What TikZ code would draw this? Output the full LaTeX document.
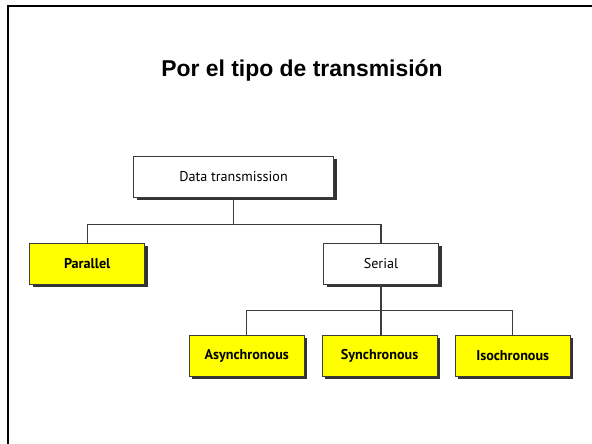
\documentclass[tikz,border=0pt]{standalone}
\usepackage{fontspec}
\setmainfont{Liberation Sans}
\newfontfamily\boxfont{PT Sans}
\usetikzlibrary{shadows}
\definecolor{boxyellow}{RGB}{255,255,0}
\definecolor{linegray}{RGB}{60,60,60}
\tikzset{
  x=1bp, y=-1bp,
  treebox/.style={draw=linegray, line width=0.8bp, minimum width=115bp, minimum height=41bp,
    inner sep=0pt, font=\boxfont\fontsize{14.2}{16}\selectfont,
    drop shadow={shadow xshift=3bp, shadow yshift=-3bp, fill=black!80, opacity=1}},
  yellowbox/.style={treebox, fill=boxyellow, font=\boxfont\bfseries\fontsize{14.2}{16}\selectfont},
  whitebox/.style={treebox, fill=white},
  conn/.style={draw=linegray, line width=1.3bp}
}
\begin{document}
\begin{tikzpicture}
\useasboundingbox (0,0) rectangle (592,444);
\fill[white] (0,0) rectangle (592,444);
\draw[line width=2.5bp, black] (8,444) -- (8,6) -- (592,6);
\node[font=\bfseries\fontsize{23}{27}\selectfont] (title) at (302,70) {Por el tipo de transmisión};
\node[whitebox, minimum width=200bp] (data) at (233.5,176.5) {Data transmission};
\node[yellowbox] (par) at (87.2,263.7) {Parallel};
\node[whitebox] (ser) at (381,263.7) {Serial};
\node[yellowbox] (asy) at (246.7,355.6) {Asynchronous};
\node[yellowbox] (syn) at (379.6,355.6) {Synchronous};
\node[yellowbox] (iso) at (512.7,355.6) {Isochronous};
\coordinate (j1) at (233.5,224.2);
\coordinate (j2) at (381,310.3);
\draw[conn] (data.south) -- (j1);
\draw[conn] (par.north) |- (j1) -| (ser.north);
\draw[conn] (ser.south) -- (j2);
\draw[conn] (asy.north) |- (j2) -| (iso.north);
\draw[conn] (j2) -- (syn.north -| j2);
\end{tikzpicture}
\end{document}
